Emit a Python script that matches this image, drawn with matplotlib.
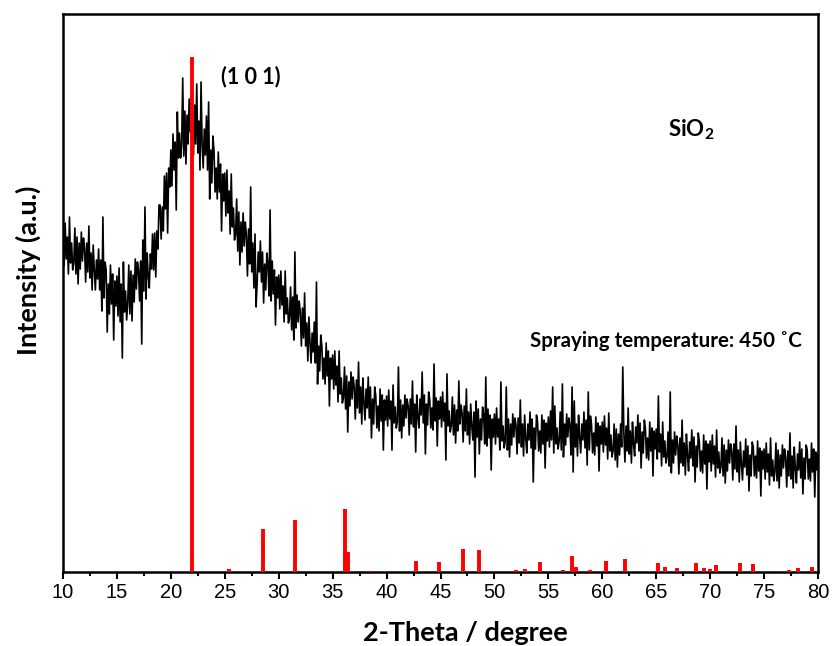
import numpy as np
import matplotlib
matplotlib.use("Agg")
import matplotlib.pyplot as plt

# ---------------- data ----------------
# XRD trace: 2-theta from 10 to 80 deg, step 0.1 deg
theta_start, theta_step = 10.0, 0.1
intensity = [
    342, 306, 349, 313, 335, 298, 355, 309, 329, 302,   # 10
    309, 344, 298, 335, 288, 329, 303, 340, 311, 334,   # 11
    323, 290, 329, 300, 346, 294, 319, 282, 327, 302,   # 12
    282, 312, 293, 323, 282, 312, 261, 355, 274, 310,   # 13
    302, 240, 288, 258, 307, 268, 298, 232, 291, 266,   # 14
    296, 256, 304, 250, 288, 214, 310, 260, 281, 252,   # 15
    268, 307, 258, 301, 251, 297, 270, 313, 283, 310,   # 16
    302, 271, 311, 228, 332, 281, 365, 273, 319, 296,   # 17
    284, 318, 303, 338, 302, 339, 295, 341, 323, 367,   # 18
    367, 333, 365, 341, 396, 363, 399, 339, 404, 385,   # 19
    422, 386, 438, 402, 430, 362, 460, 414, 439, 414,   # 20
    427, 494, 416, 461, 408, 457, 428, 473, 440, 469,   # 21
    459, 417, 467, 428, 488, 419, 451, 402, 490, 427,   # 22
    404, 443, 417, 456, 402, 470, 373, 422, 389, 436,   # 23
    421, 380, 404, 373, 420, 380, 408, 341, 398, 371,   # 24
    399, 356, 402, 359, 381, 338, 398, 345, 364, 332,   # 25
    337, 373, 321, 360, 307, 350, 320, 359, 326, 350,   # 26
    337, 296, 343, 308, 385, 300, 329, 284, 338, 265,   # 27
    289, 320, 300, 331, 290, 320, 269, 308, 282, 319,   # 28
    309, 276, 362, 271, 311, 278, 302, 247, 295, 274,   # 29
    297, 263, 301, 267, 286, 250, 301, 258, 274, 249,   # 30
    254, 285, 242, 275, 232, 320, 244, 277, 250, 271,   # 31
    260, 226, 264, 234, 279, 226, 249, 211, 255, 229,   # 32
    209, 239, 220, 250, 209, 290, 188, 226, 201, 237,   # 33
    226, 193, 214, 188, 229, 196, 221, 166, 214, 193,   # 34
    217, 183, 221, 187, 206, 170, 221, 178, 194, 169,   # 35
    174, 205, 163, 196, 140, 190, 166, 200, 173, 195,   # 36
    185, 153, 192, 164, 210, 159, 185, 148, 194, 169,   # 37
    152, 183, 164, 195, 154, 185, 134, 173, 148, 185,   # 38
    176, 144, 166, 141, 183, 151, 177, 122, 172, 152,   # 39
    176, 146, 182, 153, 171, 122, 187, 149, 165, 144,   # 40
    150, 205, 141, 172, 134, 167, 146, 177, 154, 173,   # 41
    166, 137, 173, 148, 191, 145, 168, 120, 177, 155,   # 42
    144, 173, 157, 200, 149, 177, 118, 168, 147, 180,   # 43
    173, 144, 164, 142, 208, 151, 174, 126, 171, 153,   # 44
    175, 145, 180, 151, 169, 112, 198, 146, 161, 140,   # 45
    146, 175, 137, 167, 129, 162, 141, 191, 148, 167,   # 46
    159, 130, 166, 141, 183, 137, 160, 128, 168, 146,   # 47
    132, 160, 95, 171, 135, 163, 118, 153, 132, 165,    # 48
    157, 128, 195, 126, 163, 134, 157, 102, 153, 135,   # 49
    158, 128, 164, 135, 153, 122, 190, 131, 146, 124,   # 50
    131, 185, 122, 153, 115, 148, 127, 158, 135, 154,   # 51
    147, 118, 154, 129, 172, 125, 148, 116, 157, 134,   # 52
    119, 148, 132, 160, 124, 153, 90, 144, 123, 157,    # 53
    150, 121, 141, 119, 157, 128, 152, 104, 149, 131,   # 54
    155, 125, 161, 132, 185, 119, 166, 128, 144, 123,   # 55
    131, 160, 122, 188, 115, 148, 127, 158, 135, 154,   # 56
    146, 117, 185, 100, 171, 125, 148, 116, 157, 135,   # 57
    119, 148, 132, 160, 124, 152, 107, 180, 122, 156,   # 58
    148, 119, 139, 117, 155, 126, 149, 101, 146, 128,   # 59
    150, 120, 156, 127, 144, 113, 159, 121, 137, 115,   # 60
    121, 148, 112, 143, 105, 138, 117, 148, 125, 205,   # 61
    139, 110, 146, 121, 164, 118, 141, 109, 150, 128,   # 62
    116, 145, 129, 157, 121, 149, 104, 140, 119, 152,   # 63
    143, 114, 134, 112, 150, 121, 144, 96, 141, 123,    # 64
    143, 113, 176, 120, 138, 106, 150, 115, 131, 109,   # 65
    115, 140, 106, 180, 99, 132, 109, 140, 117, 136,    # 66
    127, 98, 134, 109, 152, 106, 129, 97, 138, 116,     # 67
    101, 130, 114, 142, 106, 135, 90, 126, 105, 139,    # 68
    130, 101, 121, 99, 137, 108, 131, 83, 128, 110,     # 69
    131, 101, 137, 108, 126, 95, 142, 104, 120, 99,     # 70
    105, 134, 96, 127, 89, 122, 101, 132, 109, 128,     # 71
    121, 92, 128, 103, 146, 100, 122, 90, 130, 108,     # 72
    92, 121, 105, 133, 97, 126, 81, 117, 96, 130,       # 73
    125, 96, 116, 94, 131, 101, 124, 76, 121, 103,      # 74
    123, 93, 129, 100, 118, 87, 134, 96, 112, 91,       # 75
    100, 129, 91, 122, 84, 117, 96, 127, 104, 123,      # 76
    114, 85, 121, 96, 139, 93, 116, 84, 125, 103,       # 77
    89, 118, 102, 130, 94, 123, 78, 114, 93, 127,       # 78
    122, 93, 113, 91, 129, 100, 123, 75, 120, 102,      # 79
    118,                                                # 80
]

# Reference pattern (red sticks): positions (2-theta) and relative heights
ref_pos = [22.0, 25.4, 28.5, 31.5, 36.1, 36.45, 38.5, 42.7, 44.9, 47.05,
           48.6, 52.0, 52.85, 54.2, 56.4, 57.15, 57.55, 58.85, 60.35, 62.1,
           65.2, 65.8, 66.95, 68.7, 69.45, 69.95, 70.55, 72.75, 74.0, 77.35,
           78.1, 79.45]
ref_height = [515, 3, 43, 52, 63, 20, 1, 11, 10, 23,
              22, 2, 3, 10, 2, 16, 5, 2, 11, 13,
              9, 5, 4, 9, 4, 3, 7, 9, 8, 2,
              4, 5]

x_ticks = [10, 15, 20, 25, 30, 35, 40, 45, 50, 55, 60, 65, 70, 75, 80]

# ---------------- figure ----------------
plt.rcParams['mathtext.fontset'] = 'custom'
plt.rcParams['mathtext.rm'] = 'Lato:bold'
plt.rcParams['mathtext.bf'] = 'Lato:bold'
plt.rcParams['mathtext.it'] = 'Lato:bold'

W, H = 835, 646
fig = plt.figure(figsize=(W / 100, H / 100), dpi=100)
ax = fig.add_axes([63 / W, (H - 572) / H, (818 - 63) / W, (572 - 14) / H])

theta = theta_start + theta_step * np.arange(len(intensity))
ax.plot(theta, intensity, color='black', lw=1.2, zorder=2)

ax.vlines(ref_pos, 0, ref_height, colors='#ff0000', lw=2.8, zorder=3)

ax.set_xlim(10, 80)
ax.set_ylim(0, 558)
ax.set_xticks(x_ticks)
ax.set_xticklabels([str(t) for t in x_ticks], fontfamily='Liberation Sans', fontsize=14.5)
ax.set_xticks(np.arange(12.5, 80, 5), minor=True)
ax.set_yticks([])
ax.tick_params(axis='x', which='major', direction='out', length=5, width=1.5, pad=3)
ax.tick_params(axis='x', which='minor', direction='out', length=3, width=1.5)
for s in ax.spines.values():
    s.set_linewidth(1.8)

bold = dict(fontfamily='Lato', fontweight='bold')
fig.text(465 / W, 1 - 633 / H, '2-Theta / degree', ha='center', va='center', fontsize=19.5, **bold)
fig.text(28 / W, 1 - 270 / H, 'Intensity (a.u.)', ha='center', va='center', rotation=90, fontsize=19.5, **bold)

fig.text(251 / W, 1 - 77 / H, '(1 0 1)', ha='center', va='center', fontsize=15.5, **bold)
fig.text(668 / W, 1 - 130 / H, 'SiO$_2$', ha='left', va='center', fontsize=16, **bold)
fig.text(530 / W, 1 - 341 / H, 'Spraying temperature: 450 \u02daC', ha='left', va='center', fontsize=14.8, **bold)

fig.savefig('out.png', dpi=100)
